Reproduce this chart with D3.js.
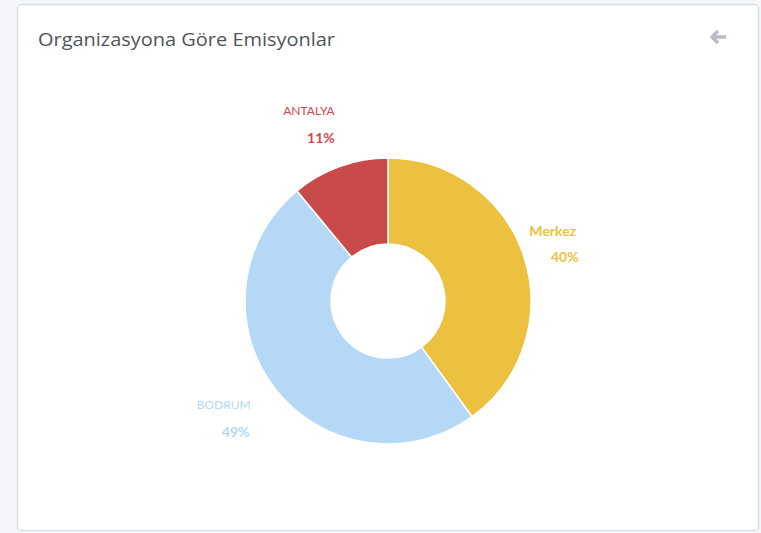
<!DOCTYPE html>
<html>
<head>
<meta charset="utf-8">
<script src="https://cdn.jsdelivr.net/npm/d3@7"></script>
<style>
  body { margin: 0; background: #f4f6fa; }
  svg { display: block; }
</style>
</head>
<body>
<div id="chart"></div>
<script>
const categories = ["Merkez", "BODRUM", "ANTALYA"]
const values = [40, 49, 11]
const colors = ["#ecc13f", "#b4d8f6", "#c94a4a"]
const labelColors = ["#ecc13f", "#b4d8f6", "#d04a4a"]
const chartTitle = "Organizasyona Göre Emisyonlar"

const W = 761, H = 533
const cx = 388, cy = 301
const outerR = 143, innerR = 57

const svg = d3.select("#chart")
              .append("svg")
              .attr("width", W)
              .attr("height", H)

// card
svg.append("rect")
   .attr("x", 17.5).attr("y", 4.5)
   .attr("width", 741).attr("height", 526)
   .attr("rx", 4)
   .attr("fill", "#fff")
   .attr("stroke", "#d9e1e8")
   .attr("stroke-width", 1.5)

svg.append("text")
   .attr("x", 38).attr("y", 46)
   .attr("font-family", "'Open Sans', sans-serif")
   .attr("font-size", 17.5)
   .attr("fill", "#505458")
   .attr("textLength", 297)
   .attr("lengthAdjust", "spacingAndGlyphs")
   .text(chartTitle)

// back arrow icon
svg.append("path")
   .attr("d", "M726 37 H712 M718 31 L712 37 L718 43")
   .attr("fill", "none")
   .attr("stroke", "#b9bcc2")
   .attr("stroke-width", 3.4)
   .attr("stroke-linejoin", "round")

const data = categories.map((c, i) => ({ name: c, value: values[i], color: colors[i], lc: labelColors[i] }))

const pie = d3.pie().sort(null).value(d => d.value)
const arc = d3.arc().innerRadius(innerR).outerRadius(outerR)

const g = svg.append("g").attr("transform", "translate(" + cx + "," + cy + ")")

const arcs = pie(data)

g.selectAll("path.slice")
 .data(arcs)
 .enter().append("path")
 .attr("class", "slice")
 .attr("d", arc)
 .attr("fill", d => d.data.color)
 .attr("stroke", "#fff")
 .attr("stroke-width", 1.5)

// label position: outside the donut along the mid angle, nudged up-left
const labelR = 189
const total = d3.sum(values)

const lab = g.selectAll("g.lab")
             .data(arcs)
             .enter().append("g")
             .attr("class", "lab")
             .attr("transform", d => {
                 const a = (d.startAngle + d.endAngle) / 2
                 return "translate(" + (Math.sin(a) * labelR - 15) + "," + (-Math.cos(a) * labelR - 12) + ")"
             })

lab.append("text")
   .attr("text-anchor", "middle")
   .attr("dy", "0.35em")
   .attr("font-family", "Lato, sans-serif")
   .attr("font-size", d => d.data.name === d.data.name.toUpperCase() ? 12 : 14)
   .attr("font-weight", d => d.data.name === d.data.name.toUpperCase() ? "normal" : "bold")
   .attr("fill", d => d.data.lc)
   .text(d => d.data.name)

lab.append("text")
   .attr("text-anchor", "middle")
   .attr("x", 12)
   .attr("y", 27)
   .attr("dy", "0.35em")
   .attr("font-family", "Lato, sans-serif")
   .attr("font-size", 14)
   .attr("font-weight", "bold")
   .attr("fill", d => d.data.lc)
   .text(d => Math.round(d.data.value / total * 100) + "%")
</script>
</body>
</html>
